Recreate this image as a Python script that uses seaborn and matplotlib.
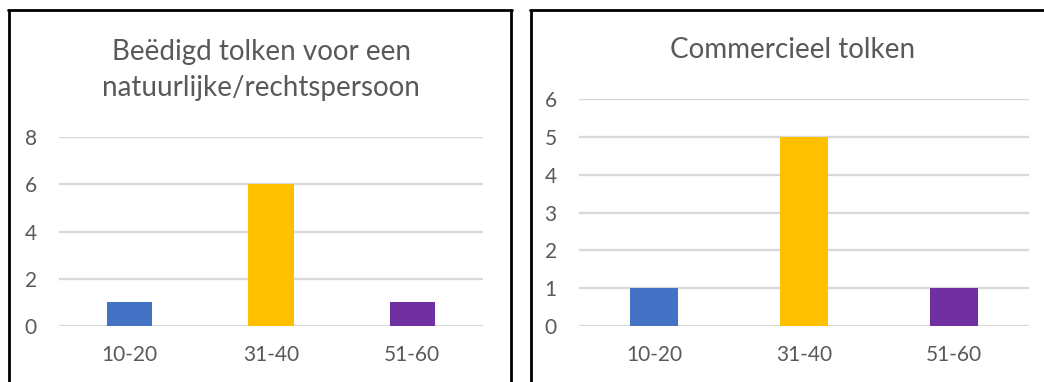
import matplotlib
matplotlib.use("Agg")
import matplotlib.pyplot as plt
from matplotlib.lines import Line2D
import seaborn as sns

# Age groups and counts per interpreting type
age_groups = ["10-20", "31-40", "51-60"]
sworn_counts = [1, 6, 1]
commercial_counts = [1, 5, 1]
bar_colors = ["#4472C4", "#FFC000", "#7030A0"]

sworn_title = "Beëdigd tolken voor een\nnatuurlijke/rechtspersoon"
commercial_title = "Commercieel tolken"
sworn_yticks = [0, 2, 4, 6, 8]
commercial_yticks = [0, 1, 2, 3, 4, 5, 6]

sns.set_theme(style="white")
plt.rcParams["font.family"] = ["Lato", "DejaVu Sans"]

W, H = 1044, 382
fig = plt.figure(figsize=(W / 100, H / 100), dpi=100)
fig.patch.set_facecolor("white")

text_color = "#595959"
grid_color = "#D9D9D9"


def px_axes(x0, x1, ytop, ybot):
    return fig.add_axes([x0 / W, (H - ybot) / H, (x1 - x0) / W, (ybot - ytop) / H])


def draw_panel(ax, values, yticks):
    sns.barplot(x=age_groups, y=values, hue=age_groups, palette=bar_colors,
                width=0.32, legend=False, ax=ax, saturation=1, zorder=3,
                linewidth=0)
    ax.set_xlim(-0.5, len(age_groups) - 0.5)
    ax.set_ylim(yticks[0], yticks[-1])
    ax.set_yticks(yticks)
    ax.yaxis.grid(True, color=grid_color, linewidth=1.7, zorder=0)
    ax.set_axisbelow(True)
    for s in ax.spines.values():
        s.set_visible(False)
    ax.tick_params(axis="both", length=0, labelsize=15, labelcolor=text_color)
    ax.tick_params(axis="y", pad=16)
    ax.tick_params(axis="x", pad=14)
    ax.set_xlabel("")
    ax.set_ylabel("")
    ax.set_facecolor("white")


ax1 = px_axes(59, 483, 137, 326)
draw_panel(ax1, sworn_counts, sworn_yticks)
ax2 = px_axes(579, 1029, 99, 326)
draw_panel(ax2, commercial_counts, commercial_yticks)

fig.text(261 / W, 1 - 70 / H, sworn_title, ha="center", va="center",
         fontsize=20, color=text_color, linespacing=1.5)
fig.text(793 / W, 1 - 50 / H, commercial_title, ha="center", va="center",
         fontsize=20, color=text_color)

# Chart-area frames
lw = 2.0
def frame_line(xs, ys):
    fig.add_artist(Line2D([x / W for x in xs], [1 - y / H for y in ys],
                          transform=fig.transFigure, color="black", linewidth=lw))

frame_line([9, 9], [10, H + 5])
frame_line([8, 512], [10, 10])
frame_line([511, 511], [10, H + 5])
frame_line([531, 531], [10, H + 5])
frame_line([530, W + 5], [10, 10])

fig.savefig("out.png", dpi=100, facecolor="white")
